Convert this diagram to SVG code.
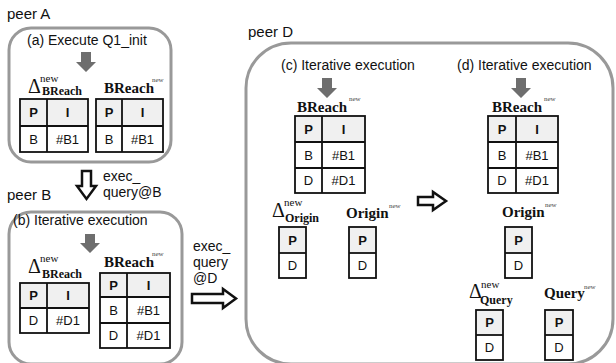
<svg xmlns="http://www.w3.org/2000/svg" width="616" height="363" viewBox="0 0 616 363">
<defs>
<style>
.peer{font-family:"Liberation Sans",Arial,sans-serif;font-size:15px;fill:#111}
.title{font-family:"Liberation Sans",Arial,sans-serif;font-size:14px;fill:#111}
.box{fill:#fff;stroke:#999;stroke-width:3}
.hd{fill:#f0f0f0;stroke:none}
.tb{fill:none;stroke:#111;stroke-width:1.8}
.th{font-family:"Liberation Sans",Arial,sans-serif;font-size:13px;font-weight:bold;fill:#111;text-anchor:middle}
.td{font-family:"Liberation Sans",Arial,sans-serif;font-size:13px;fill:#111;text-anchor:middle}
.rel{font-family:"Liberation Serif","Times New Roman",serif;font-weight:bold;font-size:15px;fill:#111}
.sub{font-family:"Liberation Serif","Times New Roman",serif;font-weight:bold;font-size:12px;fill:#111}
.delta{font-family:"Liberation Serif","Times New Roman",serif;font-size:20px;fill:#111}
.nw{font-family:"Liberation Serif","Times New Roman",serif;font-size:11px;fill:#111}
.nws{font-family:"Liberation Serif","Times New Roman",serif;font-size:7px;fill:#444}
.garrow{fill:#6e6e6e;stroke:none}
.harrow{fill:#fff;stroke:#111;stroke-width:2.5;stroke-linejoin:miter}
.lbl{font-family:"Liberation Sans",Arial,sans-serif;font-size:14px;fill:#111}
</style>
</defs>

<!-- peer A -->
<g id="peerA">
<text class="peer" x="7" y="19">peer A</text>
<rect class="box" x="9" y="28" width="162" height="134" rx="22"/>
<text class="title" x="27" y="45">(a) Execute Q1_init</text>
<path class="garrow" d="M81,52 H91 V62 H96 L86,72 L76,62 H81 Z"/>
<text class="delta" x="28" y="93">Δ</text>
<text class="nw" x="40" y="82">new</text>
<text class="sub" x="42" y="95">BReach</text>
<text class="rel" x="104" y="93">BReach</text>
<text class="nws" x="152" y="82">new</text>
<g id="tA1">
<rect class="hd" x="20" y="99" width="68" height="27"/>
<rect class="tb" x="20" y="99" width="68" height="53"/>
<path class="tb" d="M20,126 H88 M47,99 V152"/>
<text class="th" x="33.5" y="117">P</text><text class="th" x="67.5" y="117">I</text>
<text class="td" x="33.5" y="144">B</text><text class="td" x="67.5" y="144">#B1</text>
</g>
<g id="tA2">
<rect class="hd" x="96" y="99" width="67" height="27"/>
<rect class="tb" x="96" y="99" width="67" height="53"/>
<path class="tb" d="M96,126 H163 M122,99 V152"/>
<text class="th" x="109" y="117">P</text><text class="th" x="142.5" y="117">I</text>
<text class="td" x="109" y="144">B</text><text class="td" x="142.5" y="144">#B1</text>
</g>
</g>

<!-- peer B -->
<g id="peerB">
<text class="peer" x="7" y="200">peer B</text>
<rect class="box" x="9" y="212" width="173" height="152" rx="22"/>
<text class="title" x="13" y="225">(b) Iterative execution</text>
<path class="garrow" d="M85,234 H95 V243 H100 L90,253 L80,243 H85 Z"/>
<text class="delta" x="28" y="273">Δ</text>
<text class="nw" x="40" y="262">new</text>
<text class="sub" x="42" y="278">BReach</text>
<text class="rel" x="104" y="267">BReach</text>
<text class="nws" x="152" y="256">new</text>
<g id="tB1">
<rect class="hd" x="20" y="283" width="69" height="25"/>
<rect class="tb" x="20" y="283" width="69" height="50"/>
<path class="tb" d="M20,308 H89 M47,283 V333"/>
<text class="th" x="33.5" y="300">P</text><text class="th" x="68" y="300">I</text>
<text class="td" x="33.5" y="325">D</text><text class="td" x="68" y="325">#D1</text>
</g>
<g id="tB2">
<rect class="hd" x="100" y="273" width="70" height="24"/>
<rect class="tb" x="100" y="273" width="70" height="75"/>
<path class="tb" d="M100,297 H170 M100,323 H170 M127,273 V348"/>
<text class="th" x="113.5" y="290">P</text><text class="th" x="148.5" y="290">I</text>
<text class="td" x="113.5" y="315">B</text><text class="td" x="148.5" y="315">#B1</text>
<text class="td" x="113.5" y="340">D</text><text class="td" x="148.5" y="340">#D1</text>
</g>
</g>

<!-- peer D -->
<g id="peerD">
<text class="peer" x="248" y="37">peer D</text>
<rect class="box" x="246" y="43" width="367" height="321" rx="45"/>
<g id="stepC">
<text class="title" x="281" y="70">(c) Iterative execution</text>
<path class="garrow" d="M322,78 H332 V88 H337 L327,98 L317,88 H322 Z"/>
<text class="rel" x="297" y="112">BReach</text>
<text class="nws" x="349" y="101">new</text>
<rect class="hd" x="295" y="116" width="70" height="26"/>
<rect class="tb" x="295" y="116" width="70" height="77"/>
<path class="tb" d="M295,142 H365 M295,168 H365 M322,116 V193"/>
<text class="th" x="308.5" y="134">P</text><text class="th" x="343.5" y="134">I</text>
<text class="td" x="308.5" y="160">B</text><text class="td" x="343.5" y="160">#B1</text>
<text class="td" x="308.5" y="185">D</text><text class="td" x="343.5" y="185">#D1</text>
<text class="delta" x="272" y="217">Δ</text>
<text class="nw" x="284" y="206">new</text>
<text class="sub" x="285" y="222">Origin</text>
<text class="rel" x="346" y="218">Origin</text>
<text class="nws" x="389" y="208">new</text>
<rect class="hd" x="279" y="227" width="27" height="26"/>
<rect class="tb" x="279" y="227" width="27" height="51"/>
<path class="tb" d="M279,253 H306"/>
<text class="th" x="292.5" y="245">P</text><text class="td" x="292.5" y="270">D</text>
<rect class="hd" x="349" y="227" width="27" height="26"/>
<rect class="tb" x="349" y="227" width="27" height="51"/>
<path class="tb" d="M349,253 H376"/>
<text class="th" x="362.5" y="245">P</text><text class="td" x="362.5" y="270">D</text>
</g>
<g id="stepD">
<text class="title" x="457" y="70">(d) Iterative execution</text>
<path class="garrow" d="M516,78 H526 V88 H531 L521,98 L511,88 H516 Z"/>
<text class="rel" x="492" y="112">BReach</text>
<text class="nws" x="544" y="101">new</text>
<rect class="hd" x="488" y="116" width="70" height="26"/>
<rect class="tb" x="488" y="116" width="70" height="77"/>
<path class="tb" d="M488,142 H558 M488,168 H558 M516,116 V193"/>
<text class="th" x="502" y="134">P</text><text class="th" x="537" y="134">I</text>
<text class="td" x="502" y="160">B</text><text class="td" x="537" y="160">#B1</text>
<text class="td" x="502" y="185">D</text><text class="td" x="537" y="185">#D1</text>
<text class="rel" x="502" y="217">Origin</text>
<text class="nws" x="545" y="207">new</text>
<rect class="hd" x="505" y="227" width="27" height="26"/>
<rect class="tb" x="505" y="227" width="27" height="51"/>
<path class="tb" d="M505,253 H532"/>
<text class="th" x="518.5" y="245">P</text><text class="td" x="518.5" y="270">D</text>
<text class="delta" x="469" y="298">Δ</text>
<text class="nw" x="481" y="288">new</text>
<text class="sub" x="480" y="304">Query</text>
<text class="rel" x="544" y="298">Query</text>
<text class="nws" x="584" y="289">new</text>
<rect class="hd" x="476" y="310" width="27" height="25"/>
<rect class="tb" x="476" y="310" width="27" height="50"/>
<path class="tb" d="M476,335 H503"/>
<text class="th" x="489.5" y="327">P</text><text class="td" x="489.5" y="352">D</text>
<rect class="hd" x="545" y="310" width="28" height="25"/>
<rect class="tb" x="545" y="310" width="28" height="50"/>
<path class="tb" d="M545,335 H573"/>
<text class="th" x="559" y="327">P</text><text class="td" x="559" y="352">D</text>
</g>
</g>

<!-- connectors -->
<g id="connectors">
<path class="harrow" d="M82,171 H91 V186 H96 L86.5,199 L77,186 H82 Z"/>
<text class="lbl" x="103" y="181">exec_<tspan x="103" dy="16">query@B</tspan></text>
<path class="harrow" d="M192,294 H223 V289 L236,298.5 L223,308 V303 H192 Z"/>
<text class="lbl" x="193" y="251">exec_<tspan x="193" dy="16">query</tspan><tspan x="193" dy="16">@D</tspan></text>
<path class="harrow" d="M418,197 H433 V192 L446,201 L433,210 V205 H418 Z"/>
</g>
</svg>
